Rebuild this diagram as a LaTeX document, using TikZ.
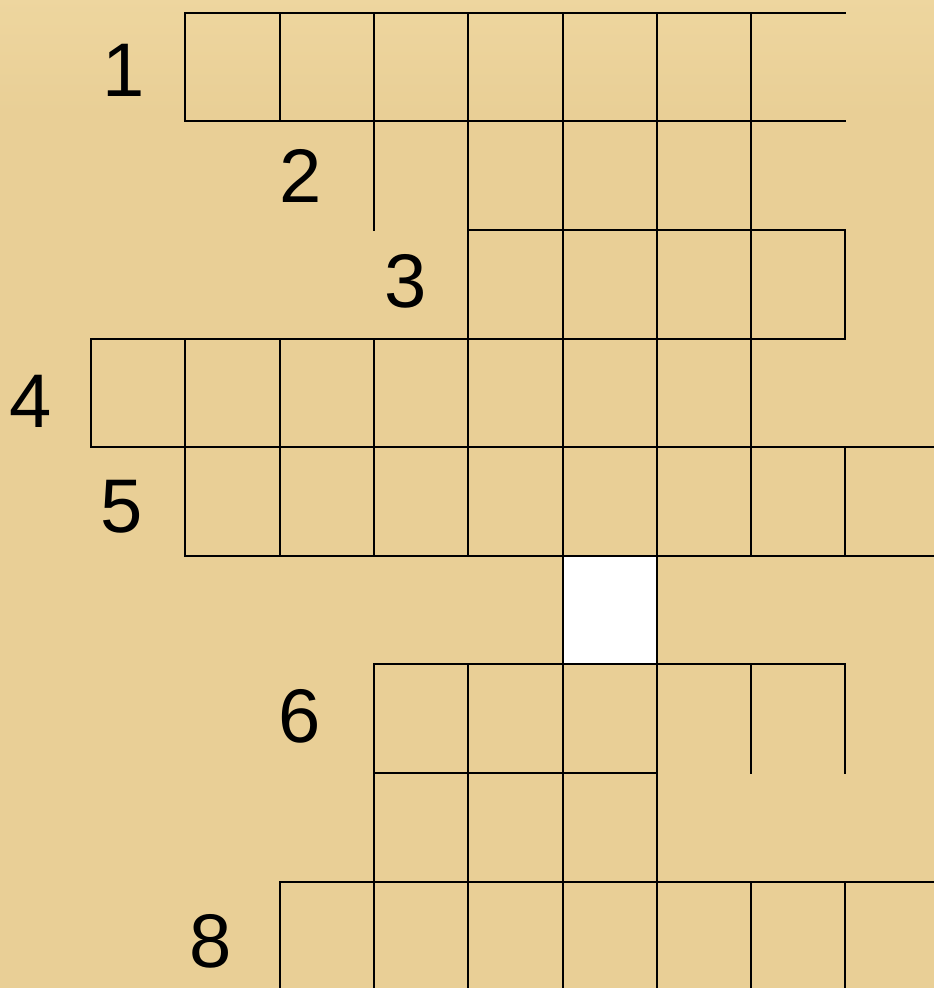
\documentclass[tikz,border=0pt]{standalone}
\usepackage{fontspec}
\setmainfont{Liberation Sans}
\definecolor{papyrus}{RGB}{233,207,150}
\definecolor{papyruslight}{RGB}{242,219,165}
\tikzset{
  gridline/.style={draw=black, line width=2.4pt, line cap=rect},
  clue/.style={font=\fontsize{76}{80}\selectfont, inner sep=0pt, anchor=base, text=black},
}
\begin{document}
\begin{tikzpicture}[x=1pt,y=-1pt]
\useasboundingbox (0,0) rectangle (934,988);
% background
\fill[papyrus] (0,0) rectangle (934,988);
\shade[top color=papyruslight, bottom color=papyrus, opacity=0.6] (0,0) rectangle (934,120);
% white cell
\fill[white] (563,556) rectangle (657,664);
% horizontal lines
\draw[gridline] (185,13) -- (845,13);
\draw[gridline] (185,121) -- (845,121);
\draw[gridline] (468,230) -- (845,230);
\draw[gridline] (91,339) -- (845,339);
\draw[gridline] (91,447) -- (934,447);
\draw[gridline] (185,556) -- (934,556);
\draw[gridline] (374,664) -- (845,664);
\draw[gridline] (374,773) -- (657,773);
\draw[gridline] (280,882) -- (934,882);
% vertical lines
\draw[gridline] (91,339) -- (91,447);
\draw[gridline] (185,13) -- (185,121);
\draw[gridline] (185,339) -- (185,556);
\draw[gridline] (280,13) -- (280,121);
\draw[gridline] (280,339) -- (280,556);
\draw[gridline] (280,882) -- (280,988);
\draw[gridline] (374,13) -- (374,230);
\draw[gridline] (374,339) -- (374,556);
\draw[gridline] (374,664) -- (374,988);
\draw[gridline] (468,13) -- (468,556);
\draw[gridline] (468,664) -- (468,988);
\draw[gridline] (563,13) -- (563,988);
\draw[gridline] (657,13) -- (657,988);
\draw[gridline] (751,13) -- (751,556);
\draw[gridline] (751,664) -- (751,773);
\draw[gridline] (751,882) -- (751,988);
\draw[gridline] (845,230) -- (845,339);
\draw[gridline] (845,447) -- (845,556);
\draw[gridline] (845,664) -- (845,773);
\draw[gridline] (845,882) -- (845,988);
% clue numbers
\node[clue] (n1) at (124,96) {1};
\node[clue] (n2) at (301,202) {2};
\node[clue] (n3) at (406,307) {3};
\node[clue] (n4) at (31,427) {4};
\node[clue] (n5) at (122,532) {5};
\node[clue] (n6) at (300,742) {6};
\node[clue] (n8) at (211,967) {8};
\end{tikzpicture}
\end{document}
